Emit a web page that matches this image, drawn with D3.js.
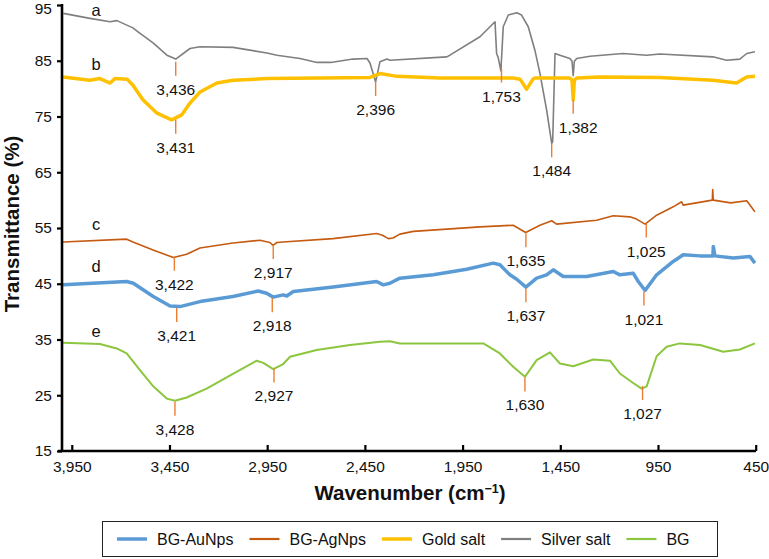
<!DOCTYPE html>
<html><head><meta charset="utf-8">
<script src="https://cdn.jsdelivr.net/npm/d3@7"></script>
<style>
body{margin:0;background:#fff;}
svg{display:block;font-family:"Liberation Sans",Arial,sans-serif;}
</style>
</head><body>
<svg id="chart" width="769" height="559"></svg>
<script>
// ---------- data ----------
const seriesNames = ["BG-AuNps","BG-AgNps","Gold salt","Silver salt","BG"];
const seriesLetters = ["d","c","b","a","e"];

const silverWn = [3993,3857,3754,3719,3637,3611,3534,3463,3418,3345,3294,3125,2951,2900,2782,2695,2625,2511,2439,2424,2395,2373,2337,2322,2031,2015,1861,1784,1776,1768,1754,1742,1716,1673,1648,1614,1580,1554,1520,1494,1489,1477,1452,1401,1390,1384,1378,1366,1298,1129,1008,940,669,599,531,496,454];
const silverT  = [93.5,92.6,92.0,92.2,90.9,90.2,88.2,86.0,85.3,87.2,87.5,87.4,86.4,86.0,85.4,84.7,84.7,85.3,85.4,84.6,81.2,84.8,85.3,85.1,85.7,86.0,89.3,92.0,86.3,85.6,83.2,91.1,93.2,93.6,93.2,91.1,86.9,82.7,76.2,70.2,70.5,86.3,86.0,85.4,84.9,82.3,84.9,85.4,85.8,86.3,86.0,86.2,85.7,85.1,85.3,86.3,86.6];

const goldWn = [3995,3857,3806,3754,3729,3667,3637,3586,3514,3439,3387,3345,3294,3207,3125,2951,2424,2373,2286,2066,1692,1656,1622,1590,1580,1401,1390,1384,1378,1366,1247,940,669,548,496,454];
const goldT  = [82.1,81.5,81.8,81.0,81.8,81.7,80.6,78.0,75.6,74.4,75.3,77.4,79.4,81.0,81.5,81.8,82.0,82.7,82.2,81.9,81.9,81.7,79.9,81.7,81.9,81.9,81.5,78.0,81.5,81.9,82.1,82.0,81.5,81.0,82.1,82.2];

const agNpsWn = [3995,3669,3637,3534,3430,3362,3294,3125,2987,2936,2920,2900,2869,2613,2390,2360,2330,2306,2271,2202,1861,1691,1627,1554,1494,1469,1264,1179,1094,1060,1016,957,872,829,821,672,670,667,578,496,454];
const agNpsT  = [52.5,53.0,52.5,51.05,49.7,50.3,51.4,52.3,52.8,52.4,51.9,52.4,52.5,53.1,54.0,53.7,53.1,53.2,53.9,54.4,55.2,55.5,54.2,55.5,56.3,55.7,56.4,57.2,57.0,56.6,55.7,57.3,58.8,59.7,59.1,60.0,61.9,60.0,59.5,59.9,57.9];

const auNpsWn = [3995,3669,3635,3533,3447,3396,3294,3125,2996,2953,2919,2868,2850,2816,2612,2390,2356,2322,2271,2100,1929,1793,1759,1708,1673,1626,1571,1520,1486,1435,1315,1179,1145,1077,1051,1016,957,872,821,735,669,667,659,565,480,454];
const auNpsT  = [44.8,45.4,45.1,42.7,41.0,40.9,41.8,42.7,43.7,43.3,42.6,43.0,42.8,43.6,44.4,45.4,44.8,45.1,46.0,46.6,47.6,48.7,48.4,46.6,45.8,44.4,46.0,46.6,47.5,46.3,46.3,47.2,46.6,46.9,45.4,43.8,46.6,49.0,50.2,50.0,50.0,51.7,50.0,49.6,49.9,48.7];

const bgWn = [3995,3806,3720,3669,3601,3533,3464,3422,3362,3260,3123,3004,2970,2919,2868,2833,2697,2526,2373,2322,2271,1844,1759,1691,1631,1571,1503,1452,1384,1281,1196,1145,1077,1034,1008,957,906,839,735,616,531,454];
const bgT  = [34.4,34.2,33.4,32.5,29.5,26.6,24.4,24.0,24.6,26.2,28.9,31.2,30.8,29.7,30.6,31.9,33.1,34.0,34.6,34.7,34.3,34.3,32.5,30.1,28.3,31.3,32.7,30.7,30.2,31.4,31.2,28.9,27.2,26.2,26.6,32.0,33.7,34.3,34.0,32.8,33.2,34.3];

// peak annotations
const peakLabels = ["3,436","3,431","2,396","1,753","1,484","1,382","3,422","2,917","1,635","1,025","3,421","2,918","1,637","1,021","3,428","2,927","1,630","1,027"];
const peakWn     = [3418,3418,2395,1751,1494,1384,3425,2919,1626,1010,3413,2924,1626,1022,3422,2915,1631,1029];
const peakT      = [84.8,74.4,81.2,83.6,70.2,78.0,49.85,51.95,54.05,55.8,40.65,42.4,44.2,43.6,23.85,29.8,28.2,26.65];

const xTicks = [3950,3450,2950,2450,1950,1450,950,450];
const yTicks = [15,25,35,45,55,65,75,85,95];

// ---------- styles ----------
const colors = {"BG-AuNps":"#5b9bd5","BG-AgNps":"#c55a11","Gold salt":"#ffc000","Silver salt":"#7f7f7f","BG":"#8cc63f"};
const widths = {"BG-AuNps":3.5,"BG-AgNps":1.6,"Gold salt":3.5,"Silver salt":1.6,"BG":2};
const seriesData = {
  "BG-AuNps":[auNpsWn,auNpsT],
  "BG-AgNps":[agNpsWn,agNpsT],
  "Gold salt":[goldWn,goldT],
  "Silver salt":[silverWn,silverT],
  "BG":[bgWn,bgT]
};

const svg = d3.select("#chart");
const x = d3.scaleLinear().domain([4000,450]).range([62,755.7]);
const y = d3.scaleLinear().domain([15,95]).range([451,5]);

// lines (draw order: back to front)
const drawOrder = ["Silver salt","Gold salt","BG-AgNps","BG-AuNps","BG"];
const line = d3.line().x(d=>x(d[0])).y(d=>y(d[1]));
drawOrder.forEach(name=>{
  const [wn,t] = seriesData[name];
  svg.append("path")
    .datum(wn.map((w,i)=>[w,t[i]]))
    .attr("d",line)
    .attr("fill","none")
    .attr("stroke",colors[name])
    .attr("stroke-width",widths[name])
    .attr("stroke-linejoin","round");
});

// peak markers
const mk = svg.append("g");
peakLabels.forEach((lab,i)=>{
  const px = x(peakWn[i]), py = y(peakT[i]);
  mk.append("line").attr("x1",px).attr("x2",px).attr("y1",py).attr("y2",py+14)
    .attr("stroke","#ed7d31").attr("stroke-width",1.4);
  mk.append("text").attr("x",px + (lab==="1,382"?5:0)).attr("y",py+33).attr("text-anchor","middle")
    .attr("font-size",15.5).attr("fill","#111").text(lab);
});

// series letters
const letterBase = {"a":15.5,"b":70,"c":230,"d":272,"e":337};
seriesLetters.forEach(l=>{
  svg.append("text").attr("x",96).attr("y",letterBase[l]).attr("text-anchor","middle")
    .attr("font-size",16.5).attr("fill","#111").text(l);
});

// axes
const xAxis = svg.append("g").attr("transform","translate(0,451)")
  .call(d3.axisBottom(x).tickValues(xTicks).tickFormat(d3.format(",")).tickSizeInner(-6).tickSizeOuter(0).tickPadding(10));
xAxis.select(".domain").attr("stroke","#000").attr("stroke-width",2.6).attr("d","M58,0H756");
xAxis.selectAll(".tick line").attr("stroke","#000").attr("stroke-width",2.2);
xAxis.selectAll(".tick text").attr("font-size",15.5).attr("font-family","Liberation Sans, Arial, sans-serif").attr("fill","#111");

const yAxis = svg.append("g").attr("transform","translate(62,0)")
  .call(d3.axisLeft(y).tickValues(yTicks).tickSizeInner(5).tickSizeOuter(0).tickPadding(5));
yAxis.select(".domain").attr("stroke","#000").attr("stroke-width",2.6).attr("d","M0,4V452");
yAxis.selectAll(".tick line").attr("stroke","#000").attr("stroke-width",2.2);
yAxis.selectAll(".tick text").attr("font-size",15.5).attr("font-family","Liberation Sans, Arial, sans-serif").attr("fill","#111")
  .attr("y",d=>d===95?4:0);

// axis titles
const xt = svg.append("text").attr("x",410).attr("y",500).attr("text-anchor","middle")
  .attr("font-size",20.5).attr("font-weight","bold").attr("fill","#111");
xt.append("tspan").text("Wavenumber (cm");
xt.append("tspan").attr("font-size",12.5).attr("dy",-7).text("\u22121");
xt.append("tspan").attr("dy",7).text(")");

svg.append("text").attr("transform","translate(19,224) rotate(-90)").attr("text-anchor","middle")
  .attr("font-size",20.5).attr("font-weight","bold").attr("fill","#111").text("Transmittance (%)");

// legend
const lg = svg.append("g");
lg.append("rect").attr("x",102.5).attr("y",521.5).attr("width",615).attr("height",35)
  .attr("fill","#fff").attr("stroke","#222").attr("stroke-width",1);
let lx = 117;
seriesNames.forEach(name=>{
  lg.append("line").attr("x1",lx).attr("x2",lx+30).attr("y1",539).attr("y2",539)
    .attr("stroke",colors[name]).attr("stroke-width",Math.max(widths[name],2.2));
  const t = lg.append("text").attr("x",lx+40).attr("y",545).attr("font-size",16).attr("fill","#111").text(name);
  lx = lx + 40 + t.node().getComputedTextLength() + 16;
});
</script>
</body></html>
